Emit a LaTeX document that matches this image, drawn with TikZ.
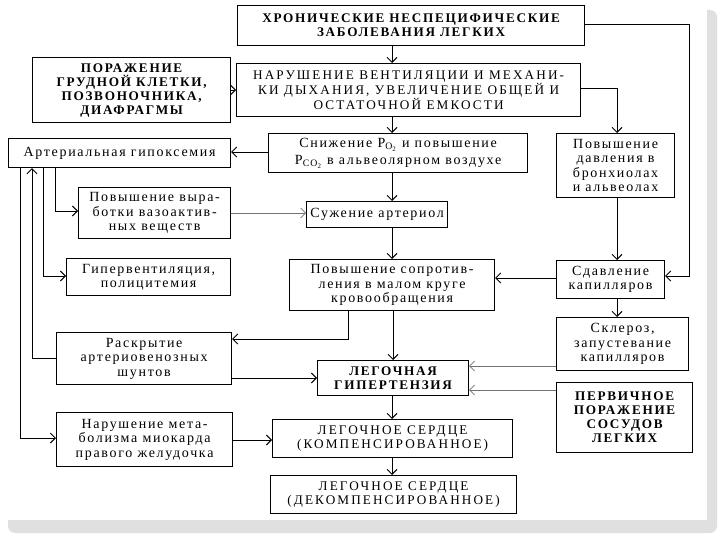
\documentclass[tikz,border=0pt]{standalone}
\usepackage{fontspec}
\setmainfont{Liberation Serif}
\newfontfamily\regf[LetterSpace=12]{Liberation Serif}
\newfontfamily\capf[LetterSpace=16]{Liberation Serif}
\newfontfamily\boldf[LetterSpace=13]{Liberation Serif}
\usetikzlibrary{arrows.meta}
\newcommand{\mkbox}[7]{\node[#1, minimum width={#4-#2}, minimum height={#5-#3}] (#6) at (#2,#3) {#7};}
\tikzset{
  box/.style={draw, line width=1.2pt, inner sep=0pt, align=center, anchor=north west,
    font=\regf\fontsize{14}{14.5}\selectfont},
  subbox/.style={box, font=\regf\fontsize{14}{17}\selectfont},
  capbox/.style={box, font=\capf\fontsize{13.2}{13.5}\selectfont},
  boldbox/.style={box, font=\boldf\bfseries\fontsize{13.2}{14}\selectfont},
  arr/.style={draw, line width=0.9pt, -{Straight Barb[length=5pt,width=10pt,line width=0.9pt]}},
  garr/.style={draw=black!55, line width=0.6pt, -{Straight Barb[length=5pt,width=10pt,line width=0.6pt]}}
}
\begin{document}
\begin{tikzpicture}[x=1pt,y=-1pt]
\useasboundingbox (0,0) rectangle (720,540);
\fill[black!12, rounded corners=7pt] (8,10) rectangle (717,533);
\fill[white] (0,0) rectangle (707,520);

\mkbox{boldbox}{237}{5}{584}{45}{top}{ХРОНИЧЕСКИЕ НЕСПЕЦИФИЧЕСКИЕ\\ЗАБОЛЕВАНИЯ ЛЕГКИХ}
\mkbox{boldbox}{32}{57}{230}{122}{por}{ПОРАЖЕНИЕ\\ГРУДНОЙ КЛЕТКИ,\\ПОЗВОНОЧНИКА,\\ДИАФРАГМЫ}
\mkbox{capbox}{236}{63}{580}{116}{nar}{НАРУШЕНИЕ ВЕНТИЛЯЦИИ И МЕХАНИ-\\КИ ДЫХАНИЯ, УВЕЛИЧЕНИЕ ОБЩЕЙ И\\ОСТАТОЧНОЙ ЕМКОСТИ}
\mkbox{box}{8}{138}{230}{167}{gip}{Артериальная гипоксемия}
\mkbox{subbox}{268}{133}{527}{172}{sniz}{Снижение P\textsubscript{O\textsubscript{2}} и повышение\\P\textsubscript{CO\textsubscript{2}} в альвеолярном воздухе}
\mkbox{box}{556}{133}{674}{197}{povd}{Повышение\\давления в\\бронхиолах\\и альвеолах}
\mkbox{box}{78}{187}{230}{238}{povv}{Повышение выра-\\ботки вазоактив-\\ных веществ}
\mkbox{box}{306}{201}{447}{227}{suz}{Сужение артериол}
\mkbox{box}{66}{258}{230}{295}{giperv}{Гипервентиляция,\\полицитемия}
\mkbox{box}{289}{259}{494}{310}{sopr}{Повышение сопротив-\\ления в малом круге\\кровообращения}
\mkbox{box}{556}{260}{664}{298}{sdav}{Сдавление\\капилляров}
\mkbox{box}{556}{317}{688}{370}{skl}{Склероз,\\запустевание\\капилляров}
\mkbox{boldbox}{556}{382}{692}{452}{perv}{ПЕРВИЧНОЕ\\ПОРАЖЕНИЕ\\СОСУДОВ\\ЛЕГКИХ}
\mkbox{boldbox}{317}{360}{468}{395}{lg}{ЛЕГОЧНАЯ\\ГИПЕРТЕНЗИЯ}
\mkbox{box}{56}{332}{231}{384}{rask}{Раскрытие\\артериовенозных\\шунтов}
\mkbox{box}{56}{412}{232}{466}{narm}{Нарушение мета-\\болизма миокарда\\правого желудочка}
\mkbox{capbox}{272}{419}{512}{457}{lsk}{ЛЕГОЧНОЕ СЕРДЦЕ\\(КОМПЕНСИРОВАННОЕ)}
\mkbox{capbox}{270}{475}{516}{513}{lsd}{ЛЕГОЧНОЕ СЕРДЦЕ\\(ДЕКОМПЕНСИРОВАННОЕ)}

% connectors
\draw[arr] (top.south -| 392,0) -- (nar.north -| 392,0);
\draw[arr] (por.east |- 0,90) -- (nar.west |- 0,90);
\draw[arr] (top.east |- 0,24) -- ++(104,0) |- (sdav.east |- 0,276);
\draw[arr] (nar.east |- 0,88) -| (povd.north -| 617,0);
\draw[arr] (nar.south -| 392,0) -- (sniz.north -| 392,0);
\draw[arr] (sniz.west |- 0,152) -- (gip.east |- 0,152);
\draw[arr] (sniz.south -| 392,0) -- (suz.north -| 392,0);
\draw[arr] (gip.south -| 55,0) |- (povv.west |- 0,211);
\draw[garr] (povv.east |- 0,213) -- (suz.west |- 0,213);
\draw[arr] (suz.south -| 392,0) -- (sopr.north -| 392,0);
\draw[arr] (gip.south -| 43,0) |- (giperv.west |- 0,276);
\draw[arr] (povd.south -| 617,0) -- (sdav.north -| 617,0);
\draw[arr] (sdav.west |- 0,278) -- (sopr.east |- 0,278);
\draw[arr] (sdav.south -| 617,0) -- (skl.north -| 617,0);
\draw[arr] (sopr.south -| 393,0) -- (lg.north -| 393,0);
\draw[arr] (sopr.south -| 348,0) |- (rask.east |- 0,339);
\draw[garr] (skl.west |- 0,366) -- (lg.east |- 0,366);
\draw[garr] (perv.west |- 0,390) -- (lg.east |- 0,390);
\draw[arr] (rask.east |- 0,378) -- (lg.west |- 0,378);
\draw[arr] (rask.west |- 0,358) -| (gip.south -| 32,0);
\draw[arr] (gip.south -| 20,0) |- (narm.west |- 0,438);
\draw[arr] (narm.east |- 0,440) -- (lsk.west |- 0,440);
\draw[arr] (lg.south -| 392,0) -- (lsk.north -| 392,0);
\draw[arr] (lsk.south -| 392,0) -- (lsd.north -| 392,0);
\end{tikzpicture}
\end{document}
